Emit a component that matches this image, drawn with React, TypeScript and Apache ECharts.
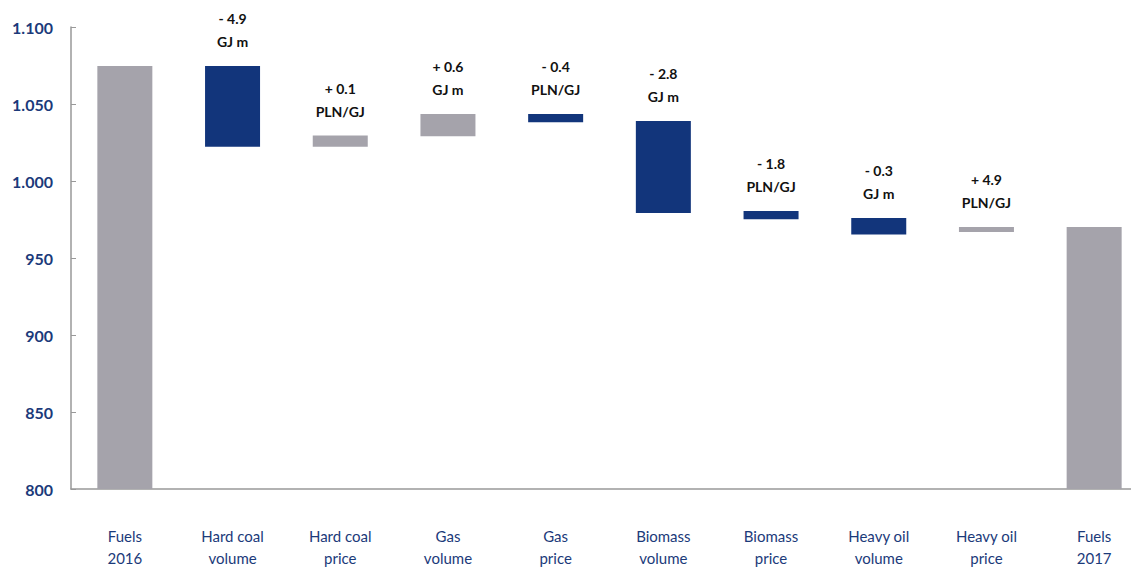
import React, { useEffect, useRef } from "react";
import * as echarts from "echarts";

const categories = [
  "Fuels\n2016",
  "Hard coal\nvolume",
  "Hard coal\nprice",
  "Gas\nvolume",
  "Gas\nprice",
  "Biomass\nvolume",
  "Biomass\nprice",
  "Heavy oil\nvolume",
  "Heavy oil\nprice",
  "Fuels\n2017",
];
// bar start and end values (totals start at 0)
const barStart = [0, 1074.7, 1022.3, 1029.0, 1043.5, 1039.0, 980.5, 976.0, 966.9, 0];
const barEnd = [1074.7, 1022.3, 1029.5, 1043.5, 1038.1, 979.2, 975.1, 965.3, 970.1, 970.1];
const isTotal = [true, false, false, false, false, false, false, false, false, true];
const labelTop = ["", "- 4.9", "+ 0.1", "+ 0.6", "- 0.4", "- 2.8", "- 1.8", "- 0.3", "+ 4.9", ""];
const labelUnit = ["", "GJ m", "PLN/GJ", "GJ m", "PLN/GJ", "GJ m", "PLN/GJ", "GJ m", "PLN/GJ", ""];
const yTicks = { min: 800, max: 1100, interval: 50 };

const GRAY = "#A5A3AB";
const BLUE = "#12357B";
const AXIS_TEXT = "#1B3A7A";

export default function App() {
  const ref = useRef<HTMLDivElement>(null);
  useEffect(() => {
    if (!ref.current) return;
    const chart = echarts.init(ref.current, null, { renderer: "svg" });
    const base = barStart.map((s, i) => (isTotal[i] ? 0 : Math.min(s, barEnd[i])));
    const delta = barStart.map((s, i) => ({
      value: isTotal[i] ? barEnd[i] : Math.abs(barEnd[i] - s),
      itemStyle: { color: isTotal[i] || barEnd[i] >= s ? GRAY : BLUE },
    }));
    chart.setOption({
      animation: false,
      textStyle: { fontFamily: "Lato, 'Open Sans', sans-serif" },
      grid: {
        left: 71,
        top: 27,
        width: 1077,
        height: 462,
        containLabel: false,
        outerBoundsMode: "none",
      },
      xAxis: {
        type: "category",
        data: categories,
        axisLine: { lineStyle: { color: "#999999", width: 1.5 } },
        axisTick: { show: false },
        axisLabel: {
          color: AXIS_TEXT,
          fontSize: 15,
          lineHeight: 21.5,
          margin: 36.5,
          interval: 0,
          fontFamily: "Lato, sans-serif",
        },
      },
      yAxis: {
        type: "value",
        min: yTicks.min,
        max: yTicks.max,
        interval: yTicks.interval,
        splitLine: { show: false },
        axisLine: { show: true, lineStyle: { color: "#999999", width: 1.5 } },
        axisTick: { show: true, inside: true, length: 5, lineStyle: { color: "#999999" } },
        axisLabel: {
          color: AXIS_TEXT,
          fontSize: 16,
          fontWeight: "bold",
          margin: 18,
          fontFamily: "Lato, sans-serif",
          formatter: (v: number) =>
            v >= 1000 ? Math.floor(v / 1000) + "." + String(v % 1000).padStart(3, "0") : String(v),
        },
      },
      series: [
        {
          type: "bar",
          stack: "w",
          data: base,
          itemStyle: { color: "transparent" },
          barWidth: 55,
          silent: true,
        },
        {
          type: "bar",
          stack: "w",
          data: delta,
          barWidth: 55,
          label: {
            show: true,
            position: "top",
            distance: 13,
            formatter: (p: any) =>
              labelTop[p.dataIndex] ? `{a|${labelTop[p.dataIndex]}}\n{a|${labelUnit[p.dataIndex]}}` : "",
            rich: {
              a: { fontSize: 14, fontWeight: "bold", color: "#111111", lineHeight: 23, fontFamily: "Lato, sans-serif" },
            },
          },
        },
      ],
    });
    return () => chart.dispose();
  }, []);
  return (
    <div
      style={{
        position: "fixed",
        left: 0,
        top: 0,
        width: 1131,
        height: 569,
        overflow: "hidden",
        background: "#fff",
      }}
    >
      <div ref={ref} style={{ width: 1131, height: 569 }} />
    </div>
  );
}
